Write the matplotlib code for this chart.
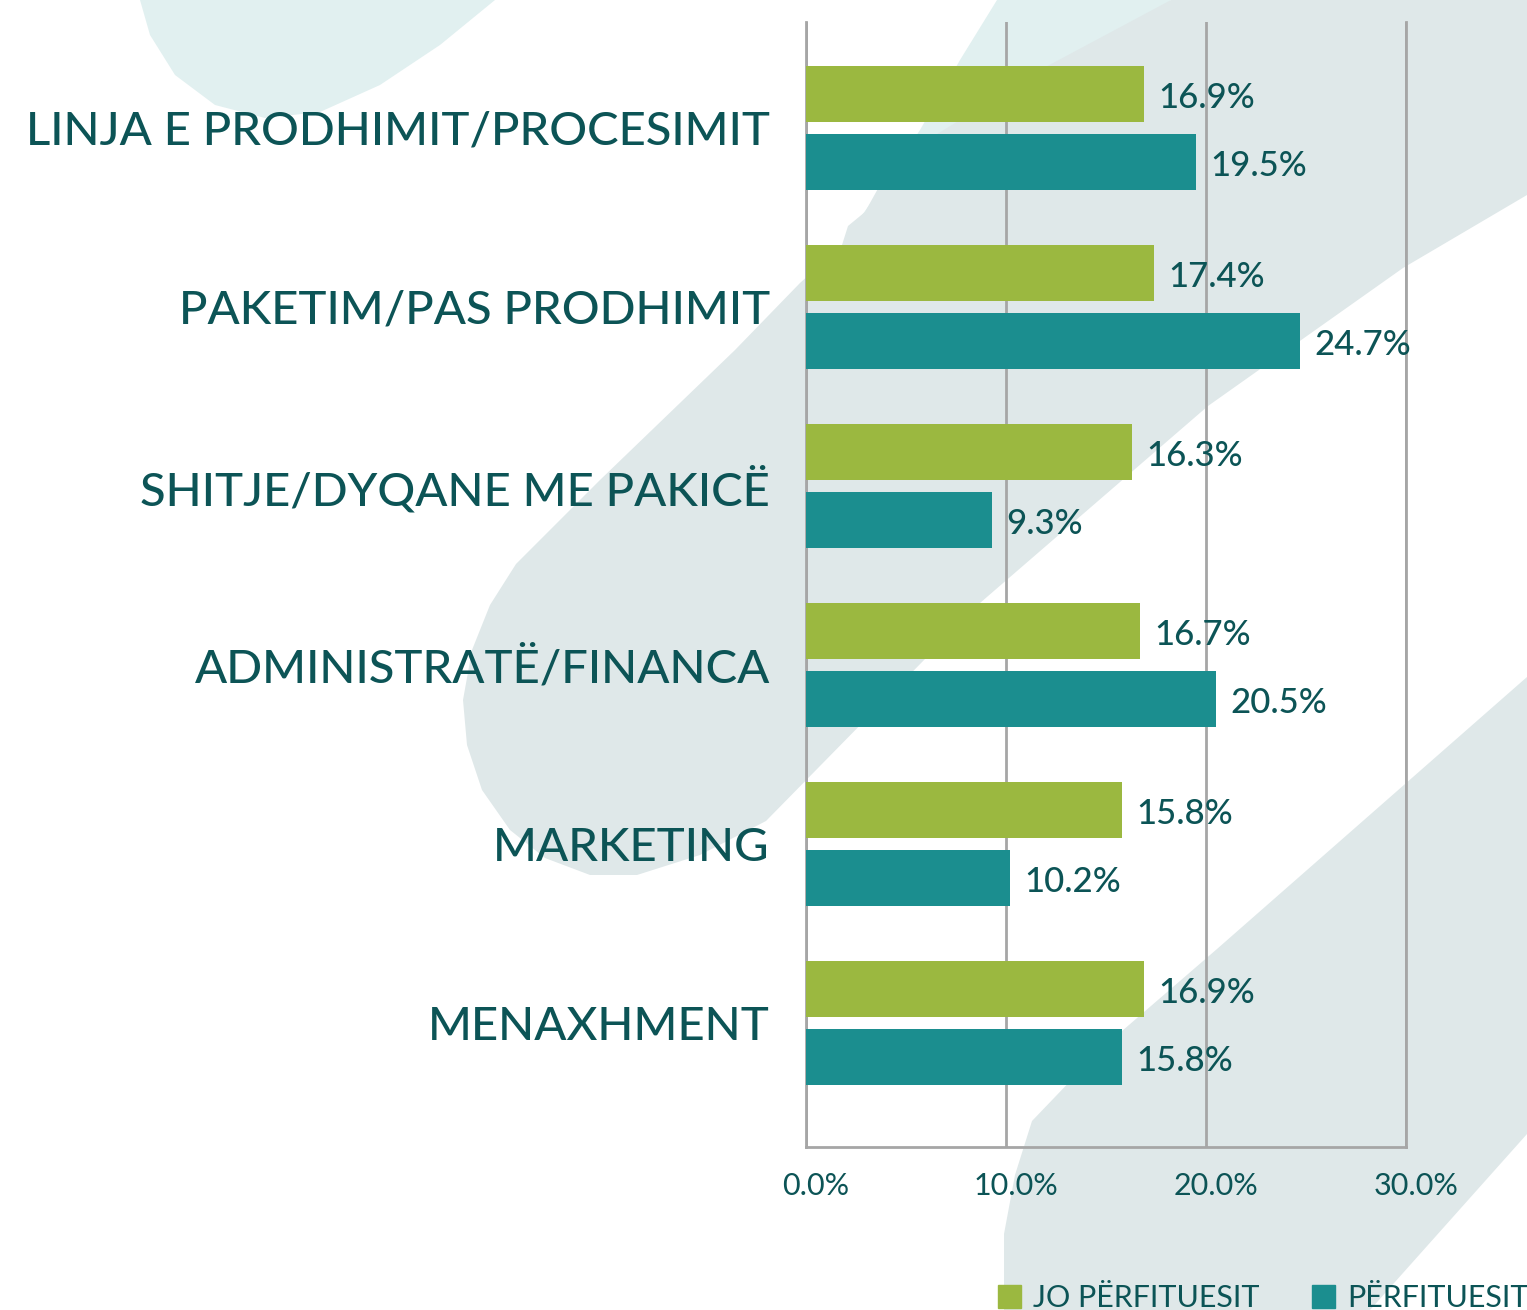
import numpy as np
import matplotlib.pyplot as plt
import matplotlib.transforms as mtransforms
from matplotlib.patches import Polygon, Patch

categories = [
    "LINJA E PRODHIMIT/PROCESIMIT",
    "PAKETIM/PAS PRODHIMIT",
    "SHITJE/DYQANE ME PAKICË",
    "ADMINISTRATË/FINANCA",
    "MARKETING",
    "MENAXHMENT",
]
jo_perfituesit = [16.9, 17.4, 16.3, 16.7, 15.8, 16.9]
perfituesit = [19.5, 24.7, 9.3, 20.5, 10.2, 15.8]
series_names = ["JO PËRFITUESIT", "PËRFITUESIT"]
x_ticks = [0, 10, 20, 30]
x_ticklabels = ["0.0%", "10.0%", "20.0%", "30.0%"]

green = "#9BB840"
teal = "#1B8E8F"
text_col = "#0C5456"
grid_col = "#A6A6A6"
plt.rcParams["font.family"] = ["Lato", "DejaVu Sans"]

W, H = 1527, 1310
fig = plt.figure(figsize=(W / 100, H / 100), dpi=100)
fig.patch.set_facecolor("white")


# decorative background shapes, given in pixel coords (y from top)
def blob(points, color):
    pts = [(x / W, 1 - y / H) for x, y in points]
    fig.add_artist(Polygon(pts, closed=True, transform=fig.transFigure,
                           facecolor=color, edgecolor="none", zorder=-10))


blob([(140, 0), (150, 35), (175, 75), (215, 105), (265, 118), (320, 112),
      (380, 85), (440, 45), (495, 0)], "#E1F0F0")
blob([(997, 0), (960, 60), (920, 130), (880, 190), (855, 225), (850, 245),
      (900, 240), (1171, 0)], "#E1F0F0")
blob([(1171, 0), (1040, 70), (960, 120), (911, 150), (880, 185), (865, 212),
      (848, 226), (842, 245), (800, 283), (735, 350), (600, 480), (516, 564),
      (490, 605), (472, 650), (463, 700), (467, 745), (482, 790), (510, 830),
      (545, 858), (590, 875), (637, 875), (700, 855), (766, 821), (980, 603),
      (1208, 406), (1403, 268), (1527, 195), (1527, 0)], "#DFE8E9")
blob([(1004, 1310), (1004, 1234), (1015, 1175), (1032, 1121), (1100, 1050),
      (1217, 949), (1527, 677), (1527, 1134), (1370, 1310)], "#DFE8E9")

ax = fig.add_axes([806 / W, 1 - 1147 / H, 600 / W, 1125 / H])
ax.patch.set_alpha(0)

y = np.arange(len(categories))
bar_h = 0.313
off = 0.19
ax.barh(y - off, jo_perfituesit, height=bar_h, color=green, zorder=3)
ax.barh(y + off, perfituesit, height=bar_h, color=teal, zorder=3)

for yy, v in zip(y - off, jo_perfituesit):
    ax.annotate(f"{v}%", (v, yy), xytext=(10, -3), textcoords="offset points",
                va="center", ha="left", fontsize=25, color=text_col,
                fontweight="medium", zorder=4)
for yy, v in zip(y + off, perfituesit):
    ax.annotate(f"{v}%", (v, yy), xytext=(10, -3), textcoords="offset points",
                va="center", ha="left", fontsize=25, color=text_col,
                fontweight="medium", zorder=4)

ax.set_xlim(0, 30)
ax.set_ylim(5.693, -0.592)
ax.set_xticks(x_ticks)
ax.set_xticklabels(x_ticklabels, fontsize=22, color=text_col)
ax.set_yticks(y)
ax.set_yticklabels(categories, fontsize=34, color=text_col, fontweight="medium")
ax.tick_params(axis="both", length=0)
ax.tick_params(axis="y", pad=26)
ax.tick_params(axis="x", pad=18)
shift = mtransforms.ScaledTranslation(10 / 100, 0, fig.dpi_scale_trans)
for lab in ax.get_xticklabels():
    lab.set_transform(lab.get_transform() + shift)

ax.grid(axis="x", color=grid_col, linewidth=2, zorder=0)
ax.set_axisbelow(True)
for side in ["left", "bottom", "right"]:
    ax.spines[side].set_color(grid_col)
    ax.spines[side].set_linewidth(2)
ax.spines["top"].set_visible(False)

handles = [Patch(color=green), Patch(color=teal)]
fig.legend(handles, series_names, loc="center right",
           bbox_to_anchor=(1.009, 1 - 1298 / H), ncol=2, frameon=False,
           fontsize=22, handlelength=0.75, handleheight=0.75,
           handletextpad=0.4, columnspacing=1.7, borderaxespad=0,
           labelcolor=text_col)

fig.savefig("out.png", dpi=100)
